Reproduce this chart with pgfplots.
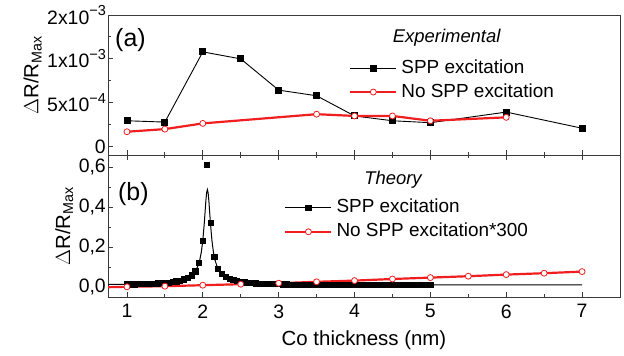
\documentclass[border=0pt]{standalone}
\usepackage{fontspec}
\setmainfont{Liberation Sans}
\usepackage{pgfplots}
\usepackage{pgfplotstable}
\pgfplotsset{compat=1.18}

\pgfplotstableread{
x y
1.00 0.0137
1.05 0.0140
1.10 0.0144
1.15 0.0149
1.20 0.0154
1.25 0.0160
1.30 0.0168
1.35 0.0177
1.40 0.0187
1.45 0.0200
1.50 0.0216
1.55 0.0235
1.60 0.0260
1.65 0.0292
1.70 0.0334
1.75 0.0390
1.80 0.0470
1.85 0.0590
1.90 0.0794
1.95 0.1215
2.00 0.2331
2.05 0.6100
2.10 0.3219
2.15 0.1526
2.20 0.0923
2.25 0.0657
2.30 0.0511
2.35 0.0418
2.40 0.0354
2.45 0.0307
2.50 0.0272
2.55 0.0245
2.60 0.0223
2.65 0.0206
2.70 0.0192
2.75 0.0181
2.80 0.0171
2.85 0.0163
2.90 0.0157
2.95 0.0151
3.00 0.0146
3.05 0.0142
3.10 0.0138
3.15 0.0135
3.20 0.0132
3.25 0.0130
3.30 0.0127
3.35 0.0125
3.40 0.0123
3.45 0.0122
3.50 0.0120
3.55 0.0119
3.60 0.0118
3.65 0.0117
3.70 0.0116
3.75 0.0115
3.80 0.0114
3.85 0.0113
3.90 0.0113
3.95 0.0112
4.00 0.0111
4.05 0.0111
4.10 0.0110
4.15 0.0110
4.20 0.0109
4.25 0.0109
4.30 0.0108
4.35 0.0108
4.40 0.0108
4.45 0.0107
4.50 0.0107
4.55 0.0107
4.60 0.0106
4.65 0.0106
4.70 0.0106
4.75 0.0106
4.80 0.0106
4.85 0.0105
4.90 0.0105
4.95 0.0105
5.00 0.0105
}\theorysquares

\definecolor{axgray}{HTML}{3A3A3A}
\definecolor{myred}{HTML}{F01E1E}
\newcommand{\sexp}[1]{\raisebox{0.42em}{\fontsize{14.5}{16}\selectfont #1}}

\pgfplotsset{
  common/.style={
    scale only axis,
    width=512bp,
    xmin=0.75, xmax=7.5,
    axis line style={axgray, line width=0.9bp},
    every tick/.style={axgray, line width=0.9bp},
    tick align=inside,
    major tick length=5bp,
    minor tick length=3bp,
    ytick pos=left,
    tick label style={font=\fontsize{19.5}{22}\selectfont, text=black},
    yticklabel style={inner sep=2bp},
    label style={font=\fontsize{20.5}{24}\selectfont},
    legend cell align=left,
    legend image code/.code={\draw[mark repeat=2,mark phase=2,##1] plot coordinates {(0bp,0bp) (23bp,0bp) (46bp,0bp)};},
  },
}

\begin{document}
\begin{tikzpicture}
\useasboundingbox (0bp,0bp) rectangle (624bp,356bp);

% ---------- panel (a)
\begin{axis}[common,
  at={(108bp,201bp)}, anchor=south west,
  height=140bp,
  ymin=-0.95e-4, ymax=1.5e-3,
  scaled y ticks=false,
  xtick={1,2,3,4,5,6,7},
  minor xtick={1.5,2.5,3.5,4.5,5.5,6.5},
  xticklabels={},
  xtick pos=bottom,
  ytick={0,5e-4,1e-3,1.5e-3},
  yticklabels={0, 5x10\sexp{−4}, 1x10\sexp{−3}, 2x10\sexp{−3}},
  minor ytick={2.5e-4,7.5e-4,1.25e-3},
  ylabel={$\Delta$R/R\textsubscript{Max}},
  ylabel style={at={(ticklabel cs:0.57)}},
  legend style={draw=none, fill=none, at={(axis description cs:0.4707,0.694)}, anchor=north west,
    inner sep=0pt, row sep=4bp, column sep=3bp, font=\fontsize{19}{22}\selectfont,
    nodes={inner sep=1bp, text height=14bp, text depth=4bp}},
]
\addlegendimage{black, line width=0.9bp, mark=square*, mark size=3bp}
\addlegendentry{SPP excitation}
\addlegendimage{myred, line width=2.2bp, mark=*, mark size=3bp, mark options={fill=white, line width=0.8bp}}
\addlegendentry{No SPP excitation}

\addplot[black, line width=0.9bp, mark=square*, mark size=3bp, forget plot] coordinates {
(1,2.95e-4) (1.5,2.8e-4) (2,1.08e-3) (2.5,1.0e-3) (3,6.44e-4) (3.5,5.8e-4)
(4,3.5e-4) (4.5,2.95e-4) (5,2.73e-4) (6,3.94e-4) (7,2.1e-4)};
\addplot[myred, line width=2.2bp, mark=*, mark size=3bp, mark options={fill=white, line width=0.8bp}, forget plot] coordinates {
(1,1.7e-4) (1.5,2.0e-4) (2,2.65e-4) (3.5,3.7e-4) (4,3.5e-4) (4.5,3.5e-4) (5,2.95e-4) (6,3.34e-4)};

\node[anchor=base, font=\fontsize{18.5}{20}\selectfont\itshape] at (axis description cs:0.6615,0.8014) {Experimental};
\node[anchor=base west, font=\fontsize{25}{28}\selectfont, inner sep=0pt] at (axis description cs:0.0137,0.7736) {(a)};
\end{axis}

% ---------- panel (b)
\begin{axis}[common,
  at={(108bp,59bp)}, anchor=south west,
  height=141.7bp,
  ymin=-0.05, ymax=0.6585,
  xtick={1,2,3,4,5,6,7},
  xticklabels={1,2,3,4,5,6,7},
  xticklabel style={yshift=-4bp},
  minor xtick={1.5,2.5,3.5,4.5,5.5,6.5},
  xtick pos=both,
  ytick={0,0.2,0.4,0.6},
  yticklabels={{0,0},{0,2},{0,4},{0,6}},
  minor ytick={0.1,0.3,0.5},
  xlabel={Co thickness (nm)},
  xlabel style={at={(axis description cs:0.5,0)}, anchor=base, yshift=-48.3bp},
  ylabel={$\Delta$R/R\textsubscript{Max}},
  legend style={draw=none, fill=none, at={(axis description cs:0.344,0.7015)}, anchor=north west,
    inner sep=0pt, row sep=4bp, column sep=3bp, font=\fontsize{19}{22}\selectfont,
    nodes={inner sep=1bp, text height=14bp, text depth=4bp}},
]
\addlegendimage{black, line width=0.9bp, mark=square*, mark size=2.6bp}
\addlegendentry{SPP excitation}
\addlegendimage{myred, line width=2.2bp, mark=*, mark size=3bp, mark options={fill=white, line width=0.8bp}}
\addlegendentry{No SPP excitation*300}

\addplot[black, line width=1bp, forget plot] coordinates {
(0.75,0.0124) (1.0,0.0137) (1.25,0.0160) (1.5,0.0216) (1.6,0.0260) (1.7,0.0334) (1.75,0.0390)
(1.8,0.0470) (1.85,0.0590) (1.9,0.0794) (1.93,0.1004) (1.96,0.1355) (1.98,0.1738) (2.0,0.2331)
(2.02,0.3219) (2.04,0.4298) (2.05,0.4710) (2.06,0.487) (2.07,0.4710) (2.08,0.4298) (2.10,0.3219)
(2.12,0.2331) (2.14,0.1738) (2.16,0.1355) (2.19,0.1004) (2.22,0.0794) (2.26,0.0622) (2.30,0.0511)
(2.35,0.0418) (2.40,0.0354) (2.50,0.0272) (2.60,0.0223) (2.75,0.0181) (3.0,0.0146) (3.5,0.0120)
(4.0,0.0111) (5.0,0.0105) (6.0,0.0103) (7.0,0.0102)};
\addplot[black, only marks, mark=square*, mark size=2.6bp, forget plot] table[x=x, y=y] {\theorysquares};

\addplot[myred, line width=2.2bp, forget plot] coordinates {(0.75,-0.001) (1,0.001)};
\addplot[myred, line width=2.2bp, mark=*, mark size=3bp, mark options={fill=white, line width=0.8bp}, forget plot] coordinates {
(1,0.001) (1.5,0.004) (2,0.009) (2.5,0.014) (3,0.019) (3.5,0.026) (4,0.032) (4.5,0.040)
(5,0.047) (5.5,0.054) (6,0.062) (6.5,0.069) (7,0.077)};

\node[anchor=base, font=\fontsize{18.5}{20}\selectfont\itshape] at (axis description cs:0.5566,0.792) {Theory};
\node[anchor=base west, font=\fontsize{25}{28}\selectfont, inner sep=0pt] at (axis description cs:0.0195,0.6824) {(b)};
\end{axis}
\end{tikzpicture}
\end{document}
